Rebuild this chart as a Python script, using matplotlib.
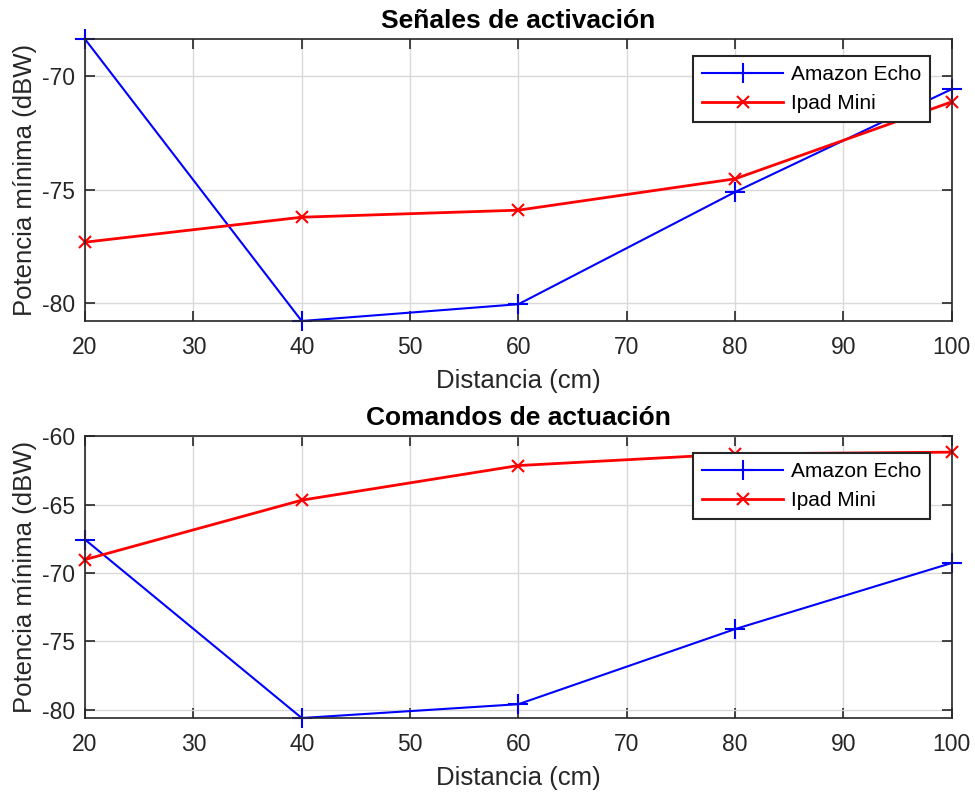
import matplotlib.pyplot as plt

plt.rcParams['font.family'] = ['Liberation Sans', 'DejaVu Sans']
plt.rcParams['axes.unicode_minus'] = False

distancia = [20, 40, 60, 80, 100]

# Señales de activación
act_echo = [-68.37, -80.78, -80.04, -75.10, -70.57]
act_ipad = [-77.31, -76.21, -75.90, -74.52, -71.13]

# Comandos de actuación
com_echo = [-67.56, -80.60, -79.59, -74.10, -69.27]
com_ipad = [-69.02, -64.68, -62.15, -61.30, -61.17]

xticks = [20, 30, 40, 50, 60, 70, 80, 90, 100]

fig = plt.figure(figsize=(9.75, 7.94), dpi=100)
ax1 = fig.add_axes([0.0872, 0.5957, 0.889, 0.355])
ax2 = fig.add_axes([0.0872, 0.0957, 0.889, 0.355])

paneles = [
    (ax1, act_echo, act_ipad, "Señales de activación", (-80.78, -68.37), [-80, -75, -70]),
    (ax2, com_echo, com_ipad, "Comandos de actuación", (-80.6, -60), [-80, -75, -70, -65, -60]),
]

for ax, echo, ipad, titulo, ylim, yt in paneles:
    ax.plot(distancia, echo, color='#0000ff', marker='+', markersize=14, markeredgewidth=1.5,
            linewidth=1.5, label='Amazon Echo', clip_on=False)
    ax.plot(distancia, ipad, color='#ff0000', marker='x', markersize=9, markeredgewidth=1.5,
            linewidth=2, label='Ipad Mini', clip_on=False)
    ax.set_xlim(20, 100)
    ax.set_ylim(*ylim)
    ax.set_xticks(xticks)
    ax.set_yticks(yt)
    ax.grid(True, color='#d9d9d9', linewidth=1)
    ax.set_axisbelow(True)
    ax.tick_params(direction='in', top=True, right=True, labelsize=16.5, length=7, width=1.2,
                   colors='#262626')
    ax.tick_params(axis='x', pad=11)
    ax.tick_params(axis='y', pad=7)
    for s in ax.spines.values():
        s.set_linewidth(1.2)
        s.set_color('#262626')
    ax.set_title(titulo, fontsize=19, fontweight='bold', pad=8)
    ax.set_xlabel('Distancia (cm)', fontsize=18.5, color='#262626', labelpad=7)
    ax.set_ylabel('Potencia mínima (dBW)', fontsize=18.5, color='#262626', labelpad=4)
    ley = ax.legend(loc='upper right', bbox_to_anchor=(0.975, 0.94), fontsize=15, fancybox=False,
                    framealpha=1, edgecolor='#262626', handlelength=3.9, handletextpad=0.35,
                    borderpad=0.45, labelspacing=0.45, borderaxespad=0)
    ley.get_frame().set_linewidth(1.5)
    ley.set_zorder(5)

fig.savefig('out.png', dpi=100)
